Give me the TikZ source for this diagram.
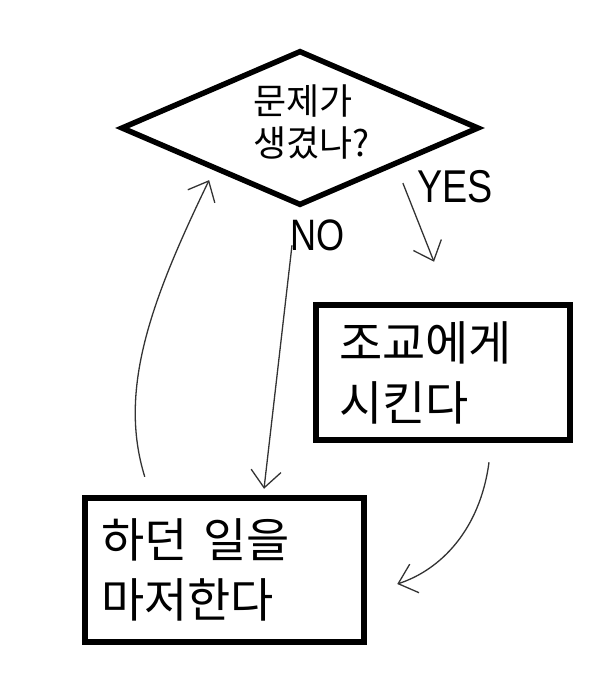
\documentclass[tikz,border=0pt]{standalone}
\usepackage{fontspec}
\setmainfont{Noto Sans CJK KR}
\newfontfamily\yesno[FakeStretch=0.82]{Liberation Sans}
\usetikzlibrary{shapes.geometric,arrows.meta,positioning,calc}

\begin{document}
\begin{tikzpicture}[x=1pt, y=-1pt,
  decision/.style={diamond, draw, line width=5.5pt, aspect=2.3, inner sep=0pt, minimum width=358pt, minimum height=155pt},
  box/.style={rectangle, draw, line width=6.5pt, align=left, font=\fontsize{47}{60}\selectfont},
  answer/.style={inner sep=0pt, font=\yesno\fontsize{44}{44}\selectfont},
  arr/.style={-{Straight Barb[length=17pt, width=30pt]}, line width=1.3pt, draw=black!80}]
\useasboundingbox (0,0) rectangle (600,700);
\node[decision] (problem) at (300,128) {};
\node[anchor=north west, inner sep=0pt, align=left, font=\fontsize{36}{42}\selectfont] (question) at ($(problem.center)+(-47,-43)$) {문제가\\생겼나?};
\node[box, minimum width=254pt, minimum height=135pt, text width=208pt, inner xsep=23pt] (ask) at (443,372.5) {조교에게\\시킨다};
\node[box, minimum width=279pt, minimum height=144pt, text width=247pt, inner xsep=16pt] (finish) at (224.5,570) {하던 일을\\마저한다};
\node[answer, font=\yesno\fontsize{46}{46}\selectfont] (yes) at ($(problem.east)+(-27,59)$) {YES};
\node[answer] (no) at ($(problem.south)+(18,27)$) {NO};
\draw[arr] ($(problem.south)+(-8,37)$) -- ($(finish.north)+(39.5,-6)$);
\draw[arr] ($(problem.south east)+(12,15)$) -- ($(ask.north)+(-9,-40)$);
\draw[arr] ($(finish.north west)+(63,-18)$) .. controls +(-27,-87) and +(-58,120) .. ($(problem.south west)+(0,12)$);
\draw[arr] ($(ask.south)+(46,19)$) .. controls +(-9,68) and +(43,-14) .. ($(finish.east)+(30,14)$);
\end{tikzpicture}
\end{document}
